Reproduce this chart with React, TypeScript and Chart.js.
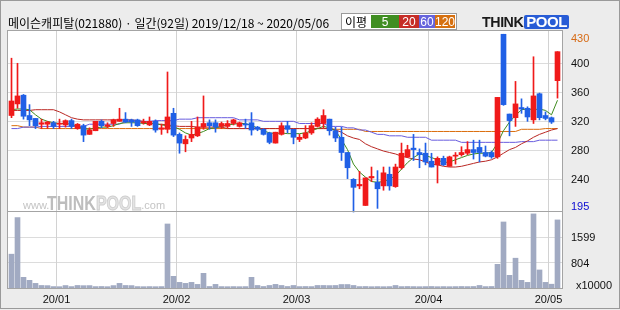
import React, { useEffect, useRef } from 'react';
import { Chart, registerables } from 'chart.js';

Chart.register(...registerables);

// ---------------- data ----------------
const TITLE = '메이슨캐피탈(021880) · 일간(92일) 2019/12/18 ~ 2020/05/06';
const MA_LABEL = '이평';
const MA_NAMES = ['5', '20', '60', '120'];

// trading days (YYMMDD)
const DATES = [
  '191218', '191219', '191220', '191223', '191224', '191226', '191227', '191230',
  '200102', '200103', '200106', '200107', '200108', '200109', '200110', '200113', '200114', '200115',
  '200116', '200117', '200120', '200121', '200122', '200123', '200128', '200129', '200130', '200131',
  '200203', '200204', '200205', '200206', '200207', '200210', '200211', '200212', '200213', '200214',
  '200217', '200218', '200219', '200220', '200221', '200224', '200225', '200226', '200227', '200228',
  '200302', '200303', '200304', '200305', '200306', '200309', '200310', '200311', '200312', '200313',
  '200316', '200317', '200318', '200319', '200320', '200323', '200324', '200325', '200326', '200327',
  '200330', '200331',
  '200401', '200402', '200403', '200406', '200407', '200408', '200409', '200410', '200413', '200414',
  '200416', '200417', '200420', '200421', '200422', '200423', '200424', '200427', '200428', '200429',
  '200504', '200506',
];

const OPEN = [
  328, 344, 356, 328, 324, 316, 316, 318, 316, 315, 321, 310, 314, 302, 307, 320, 313, 317, 320, 323,
  322, 322, 318, 315, 320, 309, 309, 331, 302, 289, 297, 300, 312, 318, 318, 313, 313, 317, 313, 316,
  318, 312, 309, 304, 290, 302, 314, 309, 295, 297, 304, 313, 317, 323, 307, 298, 277, 240, 231, 204,
  242, 236, 231, 247, 230, 256, 271, 283, 277, 276, 265, 260, 269, 258, 272, 274, 276, 281, 284, 277,
  277, 271, 440, 330, 325, 339, 338, 322, 358, 328, 325, 376,
];
const HIGH = [
  407, 400, 357, 343, 324, 323, 320, 320, 323, 322, 323, 317, 316, 311, 320, 322, 318, 323, 338, 332,
  323, 323, 323, 326, 322, 316, 388, 338, 304, 300, 320, 326, 355, 322, 322, 319, 321, 323, 319, 323,
  332, 313, 310, 305, 305, 318, 320, 309, 302, 314, 318, 325, 336, 323, 312, 312, 277, 241, 251, 242,
  257, 252, 257, 257, 261, 290, 287, 302, 282, 290, 276, 271, 272, 272, 277, 285, 292, 294, 294, 286,
  279, 353, 440, 330, 375, 351, 340, 409, 359, 333, 326, 416,
];
const LOW = [
  325, 338, 323, 314, 310, 310, 310, 310, 310, 312, 310, 309, 292, 302, 307, 311, 311, 313, 320, 318,
  313, 313, 316, 314, 305, 302, 304, 299, 276, 278, 292, 299, 309, 309, 305, 310, 311, 315, 312, 310,
  301, 307, 301, 289, 290, 301, 304, 289, 292, 296, 302, 312, 311, 301, 292, 266, 241, 195, 227, 204,
  237, 200, 225, 225, 229, 254, 270, 266, 256, 260, 257, 235, 259, 258, 261, 272, 274, 268, 264, 271,
  269, 269, 342, 300, 313, 331, 320, 317, 322, 322, 317, 352,
];
const CLOSE = [
  348, 355, 327, 322, 314, 318, 319, 313, 317, 321, 313, 316, 301, 308, 320, 314, 315, 322, 323, 319,
  319, 314, 319, 320, 308, 311, 326, 301, 290, 295, 302, 312, 317, 314, 312, 317, 317, 322, 318, 315,
  308, 309, 302, 291, 305, 314, 309, 298, 298, 304, 314, 323, 328, 307, 297, 277, 256, 229, 233, 242,
  244, 227, 249, 231, 257, 276, 281, 281, 274, 264, 257, 269, 260, 271, 273, 277, 281, 277, 277, 272,
  271, 353, 343, 321, 344, 337, 326, 355, 325, 324, 319, 416,
];
// volume, x10000 shares
const VOLUME = [
  1068, 2224, 337, 242, 146, 80, 75, 45, 42, 78, 45, 80, 74, 76, 45, 48, 42, 76, 146, 80,
  76, 45, 42, 45, 42, 45, 2022, 369, 178, 146, 178, 114, 464, 48, 114, 45, 42, 45, 42, 45,
  337, 80, 48, 80, 114, 80, 48, 80, 45, 48, 45, 80, 80, 76, 80, 110, 110, 80, 45, 48,
  42, 45, 42, 45, 80, 45, 48, 45, 42, 45, 48, 42, 45, 42, 45, 48, 45, 48, 80, 45,
  48, 748, 2085, 401, 941, 242, 178, 2340, 570, 178, 120, 2150,
];

const MA5 = [
  336, 337, 337, 336, 329, 323, 320, 318, 317, 317, 316, 313, 310, 309, 311, 312, 312, 314, 317, 318,
  318, 318, 317, 317, 317, 315, 314, 313, 309, 304, 301, 303, 306, 310, 311, 313, 315, 316, 317, 317,
  314, 311, 307, 304, 303, 304, 303, 303, 303, 304, 307, 310, 313, 311, 307, 295, 281, 261, 250, 243,
  237, 236, 237, 240, 245, 254, 263, 270, 275, 273, 270, 267, 263, 264, 267, 270, 273, 275, 276, 276,
  277, 290, 307, 319, 328, 336, 337, 336, 337, 335, 329, 349,
];
const MA20 = [
  335, 335, 335, 335, 336, 336, 336, 336, 333, 329, 325, 323, 322, 322, 322, 322, 322, 322, 322, 322,
  322, 321, 320, 318, 316, 316, 315, 314, 313, 313, 313, 312, 312, 312, 312, 312, 310, 310, 310, 310,
  310, 310, 310, 310, 310, 310, 310, 310, 310, 310, 310, 310, 310, 310, 308, 305, 300, 297, 295, 289,
  285, 282, 279, 277, 275, 272, 270, 268, 267, 264, 261, 260, 258, 257, 257, 258, 260, 262, 264, 265,
  267, 271, 276, 281, 284, 289, 293, 298, 302, 305, 308, 310,
];
const MA60 = [
  310, 310, 312, 312, 312, 313, 313, 313, 313, 313, 313, 313, 313, 316, 316, 316, 316, 316, 316, 320,
  320, 320, 320, 320, 321, 321, 321, 321, 323, 323, 323, 325, 325, 325, 325, 325, 325, 325, 322, 322,
  322, 322, 320, 320, 320, 320, 320, 320, 317, 317, 317, 317, 317, 313, 313, 313, 311, 311, 308, 308,
  305, 302, 302, 300, 300, 300, 298, 298, 298, 298, 294, 294, 294, 294, 294, 291, 291, 291, 291, 291,
  291, 291, 291, 291, 291, 292, 292, 292, 294, 294, 294, 294,
];
const MA120 = [
  314, 314, 312, 312, 312, 310, 310, 310, 310, 310, 310, 310, 310, 310, 310, 310, 310, 310, 310, 310,
  310, 310, 310, 310, 310, 310, 310, 310, 310, 310, 310, 310, 310, 310, 310, 310, 310, 310, 310, 310,
  310, 310, 310, 310, 310, 310, 310, 310, 310, 310, 310, 310, 310, 310, 309, 309, 309, 309, 309, 306,
  306, 306, 306, 306, 306, 306, 306, 306, 306, 306, 306, 306, 306, 306, 306, 306, 306, 306, 306, 306,
  306, 306, 306, 306, 306, 309, 309, 309, 309, 310, 310, 310,
];

const PRICE_GRID = [400, 360, 320, 280, 240];
const PRICE_MAX_LABEL = 430;
const PRICE_MIN_LABEL = 195;
const VOLUME_GRID = [1599, 804];
const VOLUME_UNIT = 'x10000';

// ---------------- layout / style ----------------
const W = 620;
const H = 310;
const AREA = { left: 8, top: 31, right: 562, bottom: 288 };
const PRICE_PANEL_H = 181;
const VOL_PANEL_H = 76;
const PRICE_PANEL_TOP = 444.5; // value at top edge of price panel
const PRICE_PANEL_BOTTOM = 195; // value at bottom edge of price panel
const VOL_PANEL_TOP = 2400;
const X_MIN = -0.5833;
const X_MAX = X_MIN + (AREA.right - AREA.left) / 6;

const BG = '#ECECEC';
const GRID = '#DCDCDC';
const VGRID = '#D2D2D2';
const BORDER = '#A4A4A4';
const UP = 'rgb(240,26,26)';
const DOWN = 'rgb(32,96,230)';
const C_MA5 = 'rgb(62,140,30)';
const C_MA20 = 'rgb(186,40,36)';
const C_MA60 = 'rgb(104,92,222)';
const C_MA120 = 'rgb(218,108,12)';
const C_VOL = 'rgb(161,170,194)';
const LEGEND_BG = ['rgb(64,142,34)', 'rgb(198,46,40)', 'rgb(102,100,220)', 'rgb(214,112,16)'];
const LABEL_FONT = '11px "Liberation Sans", Arial, sans-serif';

const crisp = (p: number) => Math.floor(p) + 0.5;

const MONTH_STARTS = DATES.map((d, i) => (i > 0 && d.slice(2, 4) !== DATES[i - 1].slice(2, 4) ? i : -1)).filter(
  (i) => i >= 0
);

const framePlugin = {
  id: 'frame',
  beforeDraw(chart: any) {
    const { ctx, chartArea: a, scales } = chart;
    const x = scales.x;
    const y = scales.y;
    const yv = scales.yv;
    ctx.save();
    ctx.fillStyle = BG;
    ctx.fillRect(0, 0, chart.width, chart.height);
    ctx.fillStyle = '#FFFFFF';
    ctx.fillRect(a.left, a.top, a.right - a.left, a.bottom - a.top);

    ctx.lineWidth = 1;
    ctx.strokeStyle = GRID;
    ctx.beginPath();
    PRICE_GRID.forEach((v) => {
      const p = crisp(y.getPixelForValue(v));
      ctx.moveTo(a.left, p);
      ctx.lineTo(a.right, p);
    });
    VOLUME_GRID.forEach((v) => {
      const p = crisp(yv.getPixelForValue(v));
      ctx.moveTo(a.left, p);
      ctx.lineTo(a.right, p);
    });
    ctx.stroke();

    ctx.strokeStyle = VGRID;
    ctx.beginPath();
    MONTH_STARTS.forEach((i) => {
      const p = crisp(x.getPixelForValue(i - 0.5));
      ctx.moveTo(p, a.top);
      ctx.lineTo(p, a.bottom);
    });
    ctx.stroke();

    // watermark
    const wy = 209;
    ctx.textBaseline = 'alphabetic';
    ctx.fillStyle = '#C4C4C4';
    ctx.font = '11px "Liberation Sans", Arial, sans-serif';
    ctx.fillText('www.', 23, wy);
    ctx.save();
    ctx.translate(47, wy + 1);
    ctx.scale(0.8, 1);
    ctx.font = 'bold 20px "Liberation Sans", Arial, sans-serif';
    ctx.fillStyle = '#BDBDBD';
    ctx.fillText('THINK', 0, 0);
    const tw = ctx.measureText('THINK').width;
    ctx.fillStyle = '#E4E4E4';
    ctx.strokeStyle = '#CFCFCF';
    ctx.lineWidth = 1;
    ctx.fillText('POOL', tw, 0);
    ctx.strokeText('POOL', tw, 0);
    const pw = ctx.measureText('POOL').width;
    ctx.restore();
    ctx.fillStyle = '#C4C4C4';
    ctx.font = '11px "Liberation Sans", Arial, sans-serif';
    ctx.fillText('.com', 47 + (tw + pw) * 0.8, wy);
    ctx.restore();
  },
  afterDraw(chart: any) {
    const { ctx, chartArea: a, scales } = chart;
    const x = scales.x;
    const y = scales.y;
    const yv = scales.yv;
    ctx.save();
    ctx.strokeStyle = BORDER;
    ctx.lineWidth = 1;
    ctx.strokeRect(a.left - 0.5, a.top - 0.5, a.right - a.left + 1, a.bottom - a.top + 1);
    const sep = crisp(y.getPixelForValue(PRICE_PANEL_BOTTOM));
    ctx.beginPath();
    ctx.moveTo(a.left, sep);
    ctx.lineTo(a.right, sep);
    ctx.stroke();
    // outer frame
    ctx.strokeStyle = '#9A9A9A';
    ctx.strokeRect(0.5, 0.5, W - 1, H - 2);

    // right labels
    ctx.font = LABEL_FONT;
    ctx.textBaseline = 'middle';
    ctx.textAlign = 'left';
    const lx = 571;
    ctx.fillStyle = 'rgb(214,106,20)';
    ctx.fillText(String(PRICE_MAX_LABEL), lx, y.getPixelForValue(PRICE_MAX_LABEL) - 3);
    ctx.fillStyle = '#111';
    PRICE_GRID.forEach((v) => ctx.fillText(String(v), lx, y.getPixelForValue(v) + 1));
    ctx.fillStyle = 'rgb(10,10,210)';
    ctx.fillText(String(PRICE_MIN_LABEL), lx, y.getPixelForValue(PRICE_MIN_LABEL) - 5);
    ctx.fillStyle = '#111';
    VOLUME_GRID.forEach((v) => ctx.fillText(String(v), lx, yv.getPixelForValue(v) + 1));
    ctx.fillText(VOLUME_UNIT, lx + 5, yv.getPixelForValue(0) - 2);

    // month labels
    ctx.textAlign = 'center';
    MONTH_STARTS.forEach((i) => {
      const d = DATES[i];
      ctx.fillText(d.slice(0, 2) + '/' + d.slice(2, 4), x.getPixelForValue(i - 0.5), 300);
    });
    ctx.restore();
  },
};

export default function App() {
  const ref = useRef<HTMLCanvasElement | null>(null);

  useEffect(() => {
    if (!ref.current) return;
    const colors = CLOSE.map((c, i) => (c >= OPEN[i] ? UP : DOWN));
    const idx = DATES.map((_, i) => i);
    const line = (label: string, values: number[], color: string, order: number) => ({
      type: 'line' as const,
      label,
      data: values.map((v, i) => ({ x: i, y: v })),
      borderColor: color,
      borderWidth: 1,
      pointRadius: 0,
      tension: 0,
      fill: false,
      yAxisID: 'y',
      order,
    });
    const priceSpan = PRICE_PANEL_TOP - PRICE_PANEL_BOTTOM;
    const chart = new Chart(ref.current, {
      type: 'bar',
      data: {
        datasets: [
          {
            type: 'bar',
            label: 'volume',
            data: idx.map((i) => ({ x: i, y: VOLUME[i] })),
            backgroundColor: C_VOL,
            barThickness: 5,
            grouped: false,
            yAxisID: 'yv',
            order: 9,
          } as any,
          line('MA120', MA120, C_MA120, 8),
          line('MA60', MA60, C_MA60, 7),
          line('MA20', MA20, C_MA20, 6),
          line('MA5', MA5, C_MA5, 5),
          {
            type: 'bar',
            label: 'wick',
            data: idx.map((i) => ({ x: i, y: [LOW[i], HIGH[i]] })),
            backgroundColor: colors,
            barThickness: 1,
            grouped: false,
            yAxisID: 'y',
            order: 2,
          } as any,
          {
            type: 'bar',
            label: 'body',
            data: idx.map((i) => ({ x: i, y: [OPEN[i], CLOSE[i]] })),
            backgroundColor: colors,
            barThickness: 5,
            minBarLength: 1,
            grouped: false,
            yAxisID: 'y',
            order: 1,
          } as any,
        ],
      },
      options: {
        responsive: false,
        animation: false,
        devicePixelRatio: 1,
        events: [],
        layout: {
          padding: { left: AREA.left, top: AREA.top, right: W - AREA.right, bottom: H - AREA.bottom },
        },
        plugins: { legend: { display: false }, tooltip: { enabled: false } },
        scales: {
          x: { type: 'linear', display: false, min: X_MIN, max: X_MAX, offset: false, grid: { offset: false } },
          y: {
            type: 'linear',
            display: false,
            min: PRICE_PANEL_BOTTOM - (priceSpan * VOL_PANEL_H) / PRICE_PANEL_H,
            max: PRICE_PANEL_TOP,
          },
          yv: {
            type: 'linear',
            display: false,
            min: 0,
            max: (VOL_PANEL_TOP * (PRICE_PANEL_H + VOL_PANEL_H)) / VOL_PANEL_H,
          },
        },
      } as any,
      plugins: [framePlugin],
    });
    return () => chart.destroy();
  }, []);

  const legendBoxes = [
    { left: 28, width: 28 },
    { left: 56, width: 20 },
    { left: 76, width: 16 },
    { left: 92, width: 20 },
  ];

  return (
    <div style={{ position: 'fixed', left: 0, top: 0, width: W, height: H, overflow: 'hidden' }}>
      <canvas ref={ref} width={W} height={H} style={{ position: 'absolute', left: 0, top: 0, width: W, height: H }} />
      <div
        style={{
          position: 'absolute',
          left: 8,
          top: 14,
          height: 16,
          lineHeight: '16px',
          font: '12px "Noto Sans CJK KR", sans-serif',
          color: '#000',
          whiteSpace: 'nowrap',
        }}
      >
        {TITLE}
      </div>
      <div
        style={{
          position: 'absolute',
          left: 341,
          top: 13,
          width: 116,
          height: 17,
          boxSizing: 'border-box',
          border: '1px solid #9A9A9A',
          background: '#FFFFFF',
          font: '12px "Noto Sans CJK KR", sans-serif',
        }}
      >
        <span style={{ position: 'absolute', left: 3, top: 0, lineHeight: '15px' }}>{MA_LABEL}</span>
        {MA_NAMES.map((n, k) => (
          <span
            key={n}
            style={{
              position: 'absolute',
              left: legendBoxes[k].left + 1,
              top: 1,
              width: legendBoxes[k].width,
              height: 13,
              lineHeight: '13px',
              background: LEGEND_BG[k],
              color: '#FFFFFF',
              textAlign: 'center',
              font: '12px "Liberation Sans", Arial, sans-serif',
            }}
          >
            {n}
          </span>
        ))}
      </div>
      <div
        style={{
          position: 'absolute',
          left: 481,
          top: 15,
          height: 14,
          display: 'flex',
          alignItems: 'stretch',
          font: 'bold 15px "Liberation Sans", Arial, sans-serif',
          lineHeight: '14px',
          letterSpacing: '-0.5px',
        }}
      >
        <span style={{ color: '#1A1A1A', transform: 'scaleX(0.95)' }}>THINK</span>
        <span style={{ color: '#FFFFFF', background: 'rgb(40,92,214)', padding: '0 2px', borderRadius: 2 }}>POOL</span>
      </div>
    </div>
  );
}
